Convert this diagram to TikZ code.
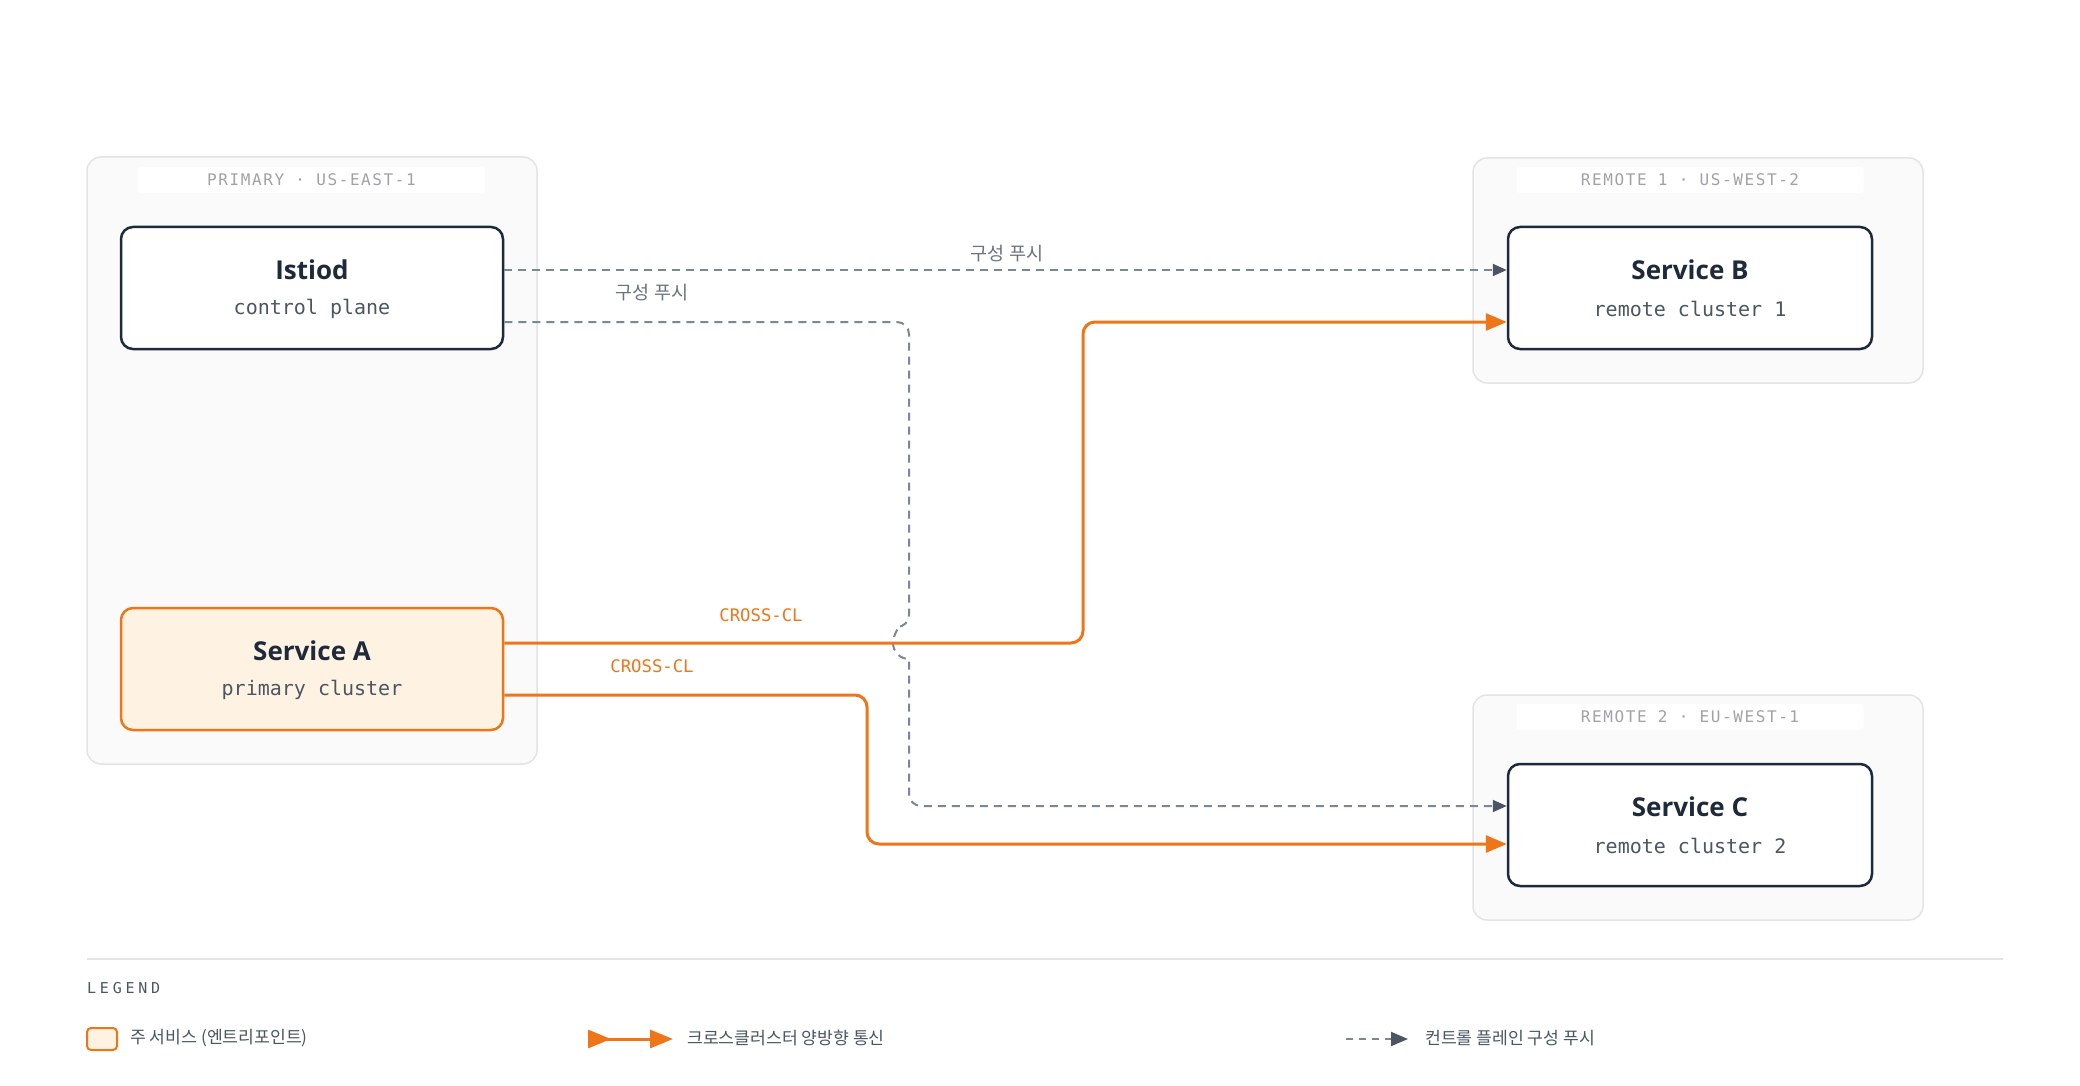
\documentclass[tikz,border=0pt]{standalone}
\usepackage{fontspec}
\setmainfont{Noto Sans}
\newfontfamily\ttlfont{Open Sans}
\newfontfamily\krfont{Noto Sans CJK KR}
\newfontfamily\monofnt{DejaVu Sans Mono}
\newfontfamily\hdrfont[LetterSpace=10]{DejaVu Sans Mono}
\newfontfamily\lgdfont[LetterSpace=25]{DejaVu Sans Mono}
\usetikzlibrary{arrows.meta,calc}
\definecolor{navy}{HTML}{1E293B}
\definecolor{subgray}{HTML}{4B5563}
\definecolor{lblgray}{HTML}{6B7280}
\definecolor{hdrgray}{HTML}{A1A1AA}
\definecolor{clbg}{HTML}{FAFAFA}
\definecolor{clborder}{HTML}{E4E4E7}
\definecolor{orng}{HTML}{EE7518}
\definecolor{cream}{HTML}{FEF3E2}
\definecolor{dashgray}{HTML}{7C8696}
\definecolor{tipgray}{HTML}{4B5563}
\begin{document}
\begin{tikzpicture}[x=1pt,y=-1pt,
  cluster/.style={draw=clborder, fill=clbg, line width=1.5pt, rounded corners=14pt, inner sep=0pt},
  hdr/.style={fill=white, rounded corners=3pt, minimum width=347pt, minimum height=26pt, inner sep=0pt, text=hdrgray, font=\hdrfont\fontsize{16}{19}\selectfont},
  svcbox/.style={draw=navy, fill=white, line width=2.5pt, rounded corners=12pt, minimum height=122pt, inner sep=0pt},
  ttl/.style={text=navy, font=\ttlfont\bfseries\fontsize{26}{30}\selectfont, inner sep=0pt},
  sub/.style={text=subgray, font=\monofnt\fontsize{20}{23}\selectfont, inner sep=0pt},
  xc/.style={draw=orng, line width=3pt, rounded corners=12pt, -{Triangle[length=21pt,width=17pt]}},
  cp/.style={draw=dashgray, line width=2pt, dash pattern=on 8pt off 6pt, rounded corners=12pt, -{Triangle[length=14pt,width=12pt,color=tipgray]}},
  cplbl/.style={text=lblgray, font=\krfont\fontsize{18.5}{21}\selectfont, inner sep=0pt},
  xclbl/.style={text=orng, font=\monofnt\fontsize{17.3}{20}\selectfont, inner sep=0pt},
  lgdtxt/.style={anchor=west, text=subgray, font=\krfont\fontsize{17.2}{20}\selectfont, inner sep=0pt}
]
\useasboundingbox[fill=white] (0,0) rectangle (2080,1086);

% clusters
\node[cluster, minimum width=450pt, minimum height=607pt] (prim) at (312,460.5) {};
\node[cluster, minimum width=450pt, minimum height=225pt] (rem1) at (1698,270.5) {};
\node[cluster, minimum width=450pt, minimum height=225pt] (rem2) at (1698,807.5) {};
\node[hdr] (hprim) at (311.5,180) {PRIMARY · US-EAST-1};
\node[hdr] (hrem1) at (1690,180) {REMOTE 1 · US-WEST-2};
\node[hdr] (hrem2) at (1690,716.5) {REMOTE 2 · EU-WEST-1};

% services
\node[svcbox, minimum width=382pt] (istiod) at (312,288) {};
\node[ttl] (istiodT) at ([yshift=18pt]istiod.center) {Istiod};
\node[sub] (istiodS) at ([yshift=-21pt]istiod.center) {control plane};

\node[svcbox, minimum width=382pt, draw=orng, fill=cream] (svcA) at (312,669) {};
\node[ttl] (svcAT) at ([yshift=18pt]svcA.center) {Service A};
\node[sub] (svcAS) at ([yshift=-21pt]svcA.center) {primary cluster};

\node[svcbox, minimum width=364pt] (svcB) at (1690,288) {};
\node[ttl] (svcBT) at ([yshift=18pt]svcB.center) {Service B};
\node[sub] (svcBS) at ([yshift=-21pt]svcB.center) {remote cluster 1};

\node[svcbox, minimum width=364pt] (svcC) at (1690,825) {};
\node[ttl] (svcCT) at ([yshift=18pt]svcC.center) {Service C};
\node[sub] (svcCS) at ([yshift=-21pt]svcC.center) {remote cluster 2};

% bend points
\coordinate (jt) at (909,322);
\coordinate (jb1) at (909,627);
\coordinate (jb2) at (909,806);
\coordinate (k1) at (1083,643);
\coordinate (k2) at (1083,322);
\coordinate (m1) at (867,695);
\coordinate (m2) at (867,844);

% control plane pushes
\draw[cp] ([yshift=18pt]istiod.east) -- ([yshift=18pt]svcB.west);
\draw[cp] ([yshift=-34pt]istiod.east) -- (jt) -- (jb1) [sharp corners] arc[start angle=90,end angle=270,radius=16pt] [rounded corners=12pt] -- (jb2) -- ([yshift=19pt]svcC.west);

% cross-cluster
\draw[xc] ([yshift=26pt]svcA.east) -- (k1) -- (k2) -- ([yshift=-34pt]svcB.west);
\draw[xc] ([yshift=-26pt]svcA.east) -- (m1) -- (m2) -- ([yshift=-19pt]svcC.west);

% labels
\node[cplbl] (l1) at (1007,254) {구성 푸시};
\node[cplbl] (l2) at (652,293) {구성 푸시};
\node[xclbl] (l3) at (761,615) {CROSS-CL};
\node[xclbl] (l4) at (652,666) {CROSS-CL};

% legend
\coordinate (sepL) at (87,959);
\coordinate (sepR) at (2003,959);
\draw[draw=clborder, line width=1.5pt] (sepL) -- (sepR);
\node[anchor=west, text=subgray, font=\lgdfont\fontsize{15}{18}\selectfont, inner sep=0pt] (lgd) at (87,988) {LEGEND};

\node[draw=orng, fill=cream, line width=2pt, rounded corners=4pt, minimum width=30pt, minimum height=22pt, inner sep=0pt] (lgbox) at (102,1039) {};
\node[lgdtxt] (lgt1) at (130,1038) {주 서비스 (엔트리포인트)};

\coordinate (la1) at (588,1039);
\coordinate (la2) at (673,1039);
\draw[draw=orng, line width=3pt, {Triangle[reversed,length=23pt,width=18pt]}-{Triangle[length=23pt,width=18pt]}] (la1) -- (la2);
\node[lgdtxt] (lgt2) at (687,1038) {크로스클러스터 양방향 통신};

\coordinate (lb1) at (1346,1039);
\coordinate (lb2) at (1408,1039);
\draw[draw=dashgray, line width=2pt, dash pattern=on 7pt off 6pt, -{Triangle[length=17pt,width=14pt,color=tipgray]}] (lb1) -- (lb2);
\node[lgdtxt] (lgt3) at (1425,1038) {컨트롤 플레인 구성 푸시};
\end{tikzpicture}
\end{document}
